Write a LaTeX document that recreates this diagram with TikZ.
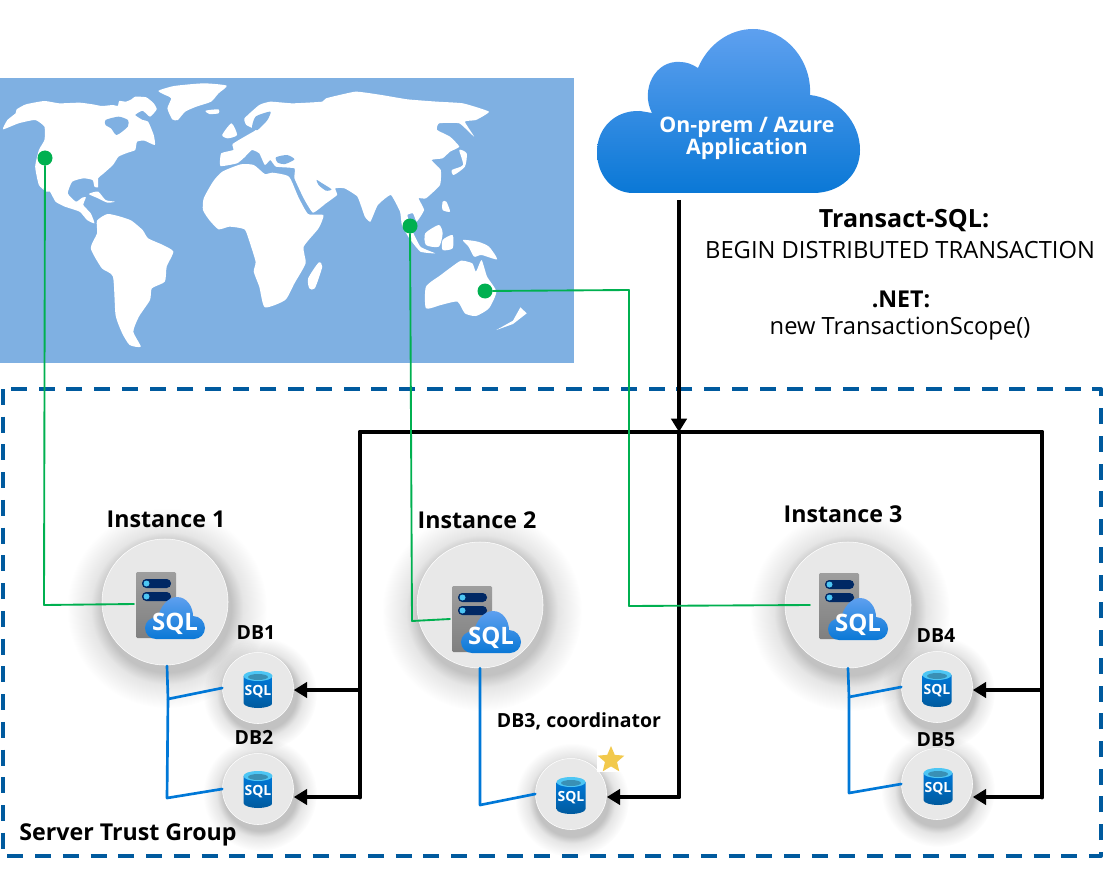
\documentclass[tikz,border=0pt]{standalone}
\usepackage{fontspec}
\setmainfont{Open Sans}
\usetikzlibrary{arrows.meta}
\usetikzlibrary{fadings}
\usetikzlibrary{shapes.geometric}
\definecolor{mapblue}{RGB}{127,176,226}
\definecolor{trustblue}{RGB}{0,90,158}
\definecolor{linkblue}{RGB}{0,120,215}
\definecolor{sitegreen}{RGB}{0,176,80}
\definecolor{cloudtop}{RGB}{94,160,239}
\definecolor{cloudlow}{RGB}{10,120,214}
\definecolor{barnavy}{RGB}{0,40,100}
\definecolor{stargold}{RGB}{242,201,76}
\pgfdeclareradialshading{softmask}{\pgfpoint{0bp}{0bp}}{color(0bp)=(white!24!black); color(16bp)=(white!24!black); color(19bp)=(white!10!black); color(25bp)=(black); color(50bp)=(black)}
\pgfdeclarefading{softfade}{\pgfuseshading{softmask}}
\tikzset{
  headtext/.style={font=\bfseries\fontsize{17.4}{21}\selectfont},
  plaintext/.style={font=\fontsize{17.8}{21}\selectfont},
  dbtext/.style={font=\bfseries\fontsize{14.6}{17}\selectfont},
  instcirc/.style={circle,fill=black!9,draw=white,thin,inner sep=0pt,minimum size=126*0.75pt},
  dbcirc/.style={circle,fill=black!9,draw=white,thin,inner sep=0pt,minimum size=71*0.75pt},
  sitedot/.style={circle,fill=sitegreen,inner sep=0pt,minimum size=15*0.75pt},
  siteline/.style={draw=sitegreen,line width=1.4pt},
  ownerline/.style={draw=linkblue,line width=2pt},
  busline/.style={draw=black,line width=3.7pt},
  land/.style={fill=white},
  pics/sqlsrv/.style={code={
    \shade[top color=black!38,bottom color=black!50,rounded corners=1pt] (-20,-33) rectangle (20,33);
    \fill[barnavy,rounded corners=3.2pt] (-14,-26) rectangle (15,-17);
    \fill[barnavy,rounded corners=3.2pt] (-14,-13) rectangle (15,-4);
    \fill[cyan!70!white] (-9.5,-21.5) circle (3);
    \fill[cyan!70!white] (-9.5,-8.5) circle (3);
    \shade[top color=cloudtop,bottom color=cloudlow] (0,34) .. controls (-6,34) and (-11,29) .. (-11,23) .. controls (-11,17) and (-6,12) .. (2,12) .. controls (4,3) and (11,-8) .. (21,-8) .. controls (31,-8) and (37,2) .. (37,11) .. controls (44,11) and (49,17) .. (49,23) .. controls (49,29) and (44,34) .. (38,34) -- cycle;
    \node[text=white,font=\bfseries\fontsize{18}{20}\selectfont] (-tag) at (19,19) {SQL};
  }},
  pics/sqldb/.style={code={
    \shade[top color=linkblue,bottom color=trustblue] (-14.5,-13) -- (-14.5,14) .. controls (-14.5,17) and (-7,19) .. (0,19) .. controls (7,19) and (14.5,17) .. (14.5,14) -- (14.5,-13) -- cycle;
    \fill[cyan!70!white] (0,-13) ellipse [x radius=14.5,y radius=5];
    \fill[cyan!70!black] (0,-12) ellipse [x radius=10,y radius=3];
    \node[text=white,font=\bfseries\fontsize{10.5}{12}\selectfont] (-tag) at (0,3) {SQL};
  }},
}
\begin{document}
\begin{tikzpicture}[line cap=round,line join=round,>={Triangle[width=11.5pt,length=10pt]},x=0.75pt,y=-0.75pt]
\useasboundingbox (0,0) rectangle (1112,884);
% world map
\fill[mapblue] (0,78) rectangle (574,363);
\begin{scope}[shift={(0,70)},x=0.2778pt,y=-0.25pt]
\fill[land] plot[smooth cycle,tension=0.3] coordinates {(8,178) (20,150) (42,130) (45,118) (70,103) (120,93) (160,100) (215,98) (250,103) (275,108) (305,105) (318,108) (322,93) (340,95) (355,88) (365,80) (395,82) (415,100) (423,118) (405,140) (385,122) (365,135) (385,150) (400,155) (415,195) (418,225) (390,212) (370,215) (365,240) (345,248) (320,260) (305,285) (280,310) (265,325) (265,352) (255,350) (250,330) (225,325) (195,335) (183,370) (205,395) (222,383) (232,382) (225,405) (245,430) (255,460) (235,450) (215,425) (175,410) (150,395) (135,365) (125,365) (105,345) (95,290) (105,240) (120,210) (120,170) (95,150) (50,160)};
\fill[mapblue] plot[smooth cycle,tension=0.4] coordinates {(285,150) (320,140) (345,150) (345,170) (315,195) (300,175) (285,165)};
\fill[land] plot[smooth cycle,tension=0.4] coordinates {(240,372) (265,365) (285,390) (310,395) (290,398) (265,385)};
\fill[land] plot[smooth cycle,tension=0.35] coordinates {(428,62) (470,48) (550,40) (612,47) (590,70) (570,95) (530,110) (500,125) (480,150) (465,148) (452,115) (462,85) (440,72)};
\fill[land] plot[smooth cycle,tension=0.4] coordinates {(555,122) (590,118) (590,130) (565,132)};
\fill[land] plot[smooth cycle,tension=0.35] coordinates {(262,452) (290,432) (325,440) (355,452) (385,480) (400,505) (440,525) (468,545) (450,590) (445,635) (410,655) (405,690) (375,740) (360,785) (380,830) (350,825) (330,790) (312,735) (305,620) (275,595) (245,535) (262,490)};
\fill[land] plot[smooth cycle,tension=0.35] coordinates {(550,385) (575,335) (600,305) (650,283) (685,285) (715,312) (735,308) (780,320) (805,380) (832,432) (873,435) (860,475) (820,530) (825,580) (795,640) (770,690) (715,712) (700,650) (685,605) (690,575) (672,510) (660,478) (620,470) (590,478) (565,450) (548,420)};
\fill[land] plot[smooth cycle,tension=0.4] coordinates {(860,578) (870,590) (850,655) (835,655) (832,625)};
\fill[land] plot[smooth cycle,tension=0.25] coordinates {(595,288) (597,250) (630,240) (628,222) (668,195) (690,180) (665,165) (660,145) (700,105) (730,95) (790,100) (870,95) (880,85) (960,65) (1030,75) (1100,88) (1180,95) (1250,100) (1320,125) (1285,150) (1255,155) (1280,200) (1240,160) (1185,160) (1180,180) (1215,200) (1240,230) (1215,245) (1195,265) (1165,270) (1190,300) (1188,345) (1150,385) (1130,385) (1145,420) (1125,455) (1115,430) (1100,435) (1108,470) (1135,530) (1175,550) (1135,545) (1105,505) (1085,465) (1080,425) (1055,375) (1020,405) (1000,455) (985,440) (965,380) (930,355) (905,355) (910,375) (880,400) (845,428) (820,385) (795,325) (795,295) (745,290) (730,270) (715,285) (700,250) (680,240) (660,262) (640,280)};
\fill[mapblue] plot[smooth cycle,tension=0.4] coordinates {(855,330) (870,340) (895,358) (880,362) (860,345)};
\fill[mapblue] plot[smooth cycle,tension=0.4] coordinates {(690,140) (730,125) (722,150) (705,170) (695,180) (680,175)};
\fill[mapblue] plot[smooth cycle,tension=0.4] coordinates {(745,262) (775,255) (795,268) (770,282) (750,278)};
\fill[land] plot[smooth cycle,tension=0.4] coordinates {(600,195) (625,160) (640,195) (615,205)};
\fill[land] plot[smooth cycle,tension=0.4] coordinates {(1225,315) (1255,290) (1260,250) (1240,240) (1250,285) (1220,300)};
\fill[land] plot[smooth cycle,tension=0.4] coordinates {(1195,395) (1205,395) (1215,425) (1195,420)};
\fill[land] plot[smooth cycle,tension=0.4] coordinates {(1148,490) (1185,465) (1195,490) (1185,530) (1150,525)};
\fill[land] plot[smooth cycle,tension=0.4] coordinates {(1195,510) (1222,495) (1222,535) (1195,540)};
\fill[land] plot[smooth cycle,tension=0.4] coordinates {(1250,510) (1290,515) (1320,530) (1342,568) (1300,555) (1280,560) (1265,530)};
\fill[land] plot[smooth cycle,tension=0.35] coordinates {(1150,650) (1190,615) (1220,590) (1245,572) (1275,580) (1285,605) (1300,570) (1315,620) (1340,665) (1320,715) (1285,738) (1255,730) (1235,695) (1190,705) (1150,715)};
\fill[land] (1340,780) -- (1385,752) -- (1405,712) -- (1422,730) -- (1385,762) -- cycle;
\end{scope}
% application cloud
\shade[top color=cloudtop,bottom color=cloudlow] (633,193) .. controls (612,193) and (597,175) .. (597,152) .. controls (597,128) and (615,110) .. (640,111) -- (652,113) .. controls (640,90) and (655,60) .. (680,62) .. controls (686,62) and (692,64) .. (698,68) .. controls (708,44) and (730,29) .. (753,29) .. controls (785,29) and (812,60) .. (810,95) .. controls (838,98) and (860,122) .. (860,150) .. controls (860,175) and (840,193) .. (813,193) -- cycle;
\node[font=\bfseries\fontsize{16}{19}\selectfont,text=white] (appname) at (747,127) {On-prem / Azure};
\node[font=\bfseries\fontsize{16}{19}\selectfont,text=white] (appname2) at (747,149) {Application};
\node[headtext,font=\bfseries\fontsize{18.8}{22}\selectfont] (tsqlhead) at (904,221) {Transact-SQL:};
\node[plaintext] (tsqlcode) at (900,250) {BEGIN DISTRIBUTED TRANSACTION};
\node[headtext] (nethead) at (901,299) {.NET:};
\node[plaintext] (netcode) at (900,329) {new TransactionScope()};
% trust group frame
\draw[draw=trustblue,line width=3pt,line cap=butt,dash pattern=on 12pt off 8.8pt] (3,389) rectangle (1101,856);
% soft shadows
\foreach \cx/\cy/\rr in {167/608/100,482/611/100,850/611/100,260/694/57,260/794/57,572/800/57,938/693/57,938/790/57}
  \fill[black,path fading=softfade] (\cx,\cy) circle (\rr);
\node[headtext] (groupname) at (128,835) {Server Trust Group};
% instances and databases
\node[instcirc] (inst1) at (165,602) {};
\node[instcirc] (inst2) at (480,605) {};
\node[instcirc] (inst3) at (848,605) {};
\node[dbcirc] (db1) at (258,688) {};
\node[dbcirc] (db2) at (258,789) {};
\node[dbcirc] (db3) at (571,794) {};
\node[dbcirc] (db4) at (937,687) {};
\node[dbcirc] (db5) at (937,784) {};
\pic (srv1) at (156,605) {sqlsrv};
\pic (srv2) at (472,619) {sqlsrv};
\pic (srv3) at (839,606) {sqlsrv};
\pic (cyl1) at (258,689) {sqldb};
\pic (cyl2) at (258,789) {sqldb};
\pic (cyl3) at (571,795) {sqldb};
\pic (cyl4) at (937,688) {sqldb};
\pic (cyl5) at (938,786) {sqldb};
\node[headtext] (inst1name) at (166,519) {Instance 1};
\node[headtext] (inst2name) at (477,520) {Instance 2};
\node[headtext] (inst3name) at (843,514) {Instance 3};
\node[dbtext] (db1name) at (256,633) {DB1};
\node[dbtext] (db2name) at (254,737) {DB2};
\node[dbtext] (db3name) at (579,721) {DB3, coordinator};
\node[dbtext] (db4name) at (936,636) {DB4};
\node[dbtext] (db5name) at (936,740) {DB5};
% star
\fill[white] (597,746) rectangle (624,772);
\node[star,star points=5,star point ratio=2.2,fill=stargold,inner sep=0pt,minimum size=28*0.75pt] (coordstar) at (611,760) {};
% owner links
\coordinate (own1top) at (167,666);
\coordinate (own1mid) at (168,699);
\coordinate (own1low) at (167,798);
\coordinate (own2low) at (480,805);
\coordinate (own3mid) at (849,697);
\coordinate (own3low) at (849,793);
\draw[ownerline] (own1top) -- (own1mid) -- (own1low) -- (db2.west);
\draw[ownerline] (own1mid) -- (db1.west);
\draw[ownerline] (inst2.south) -- (own2low) -- (db3.west);
\draw[ownerline] (inst3.south) -- (own3mid) -- (own3low) -- (db5.west);
\draw[ownerline] (own3mid) -- (db4.west);
% bus
\coordinate (busleft) at (360,432);
\coordinate (busmid) at (679,432);
\coordinate (busright) at (1042,432);
\coordinate (appfoot) at (679,200);
\coordinate (busa) at (360,690);
\coordinate (busb) at (360,797);
\coordinate (busc) at (679,797);
\coordinate (busd) at (1042,690);
\coordinate (buse) at (1042,797);
\draw[busline,line cap=butt,->] (appfoot) -- (busmid);
\draw[busline] (busb) -- (busleft) -- (busright) -- (buse);
\draw[busline,line cap=butt,->] (busmid) -- (busc) -- (busc -| db3.east);
\draw[busline,line cap=butt,->] (busa) -- (busa -| db1.east);
\draw[busline,line cap=butt,->] (busb) -- (busb -| db2.east);
\draw[busline,line cap=butt,->] (busd) -- (busd -| db4.east);
\draw[busline,line cap=butt,->] (buse) -- (buse -| db5.east);
% site links
\node[sitedot] (site1) at (45,158) {};
\node[sitedot] (site2) at (410,226) {};
\node[sitedot] (site3) at (485,291) {};
\coordinate (knee1) at (44,605);
\coordinate (srv1foot) at (134,604);
\coordinate (knee2) at (412,621);
\coordinate (srv2foot) at (450,619);
\coordinate (knee3a) at (629,290);
\coordinate (knee3b) at (629,606);
\coordinate (srv3foot) at (810,605);
\draw[siteline] (site1) -- (knee1) -- (srv1foot);
\draw[siteline] (site2) -- (knee2) -- (srv2foot);
\draw[siteline] (site3) -- (knee3a) -- (knee3b) -- (srv3foot);
\end{tikzpicture}
\end{document}
